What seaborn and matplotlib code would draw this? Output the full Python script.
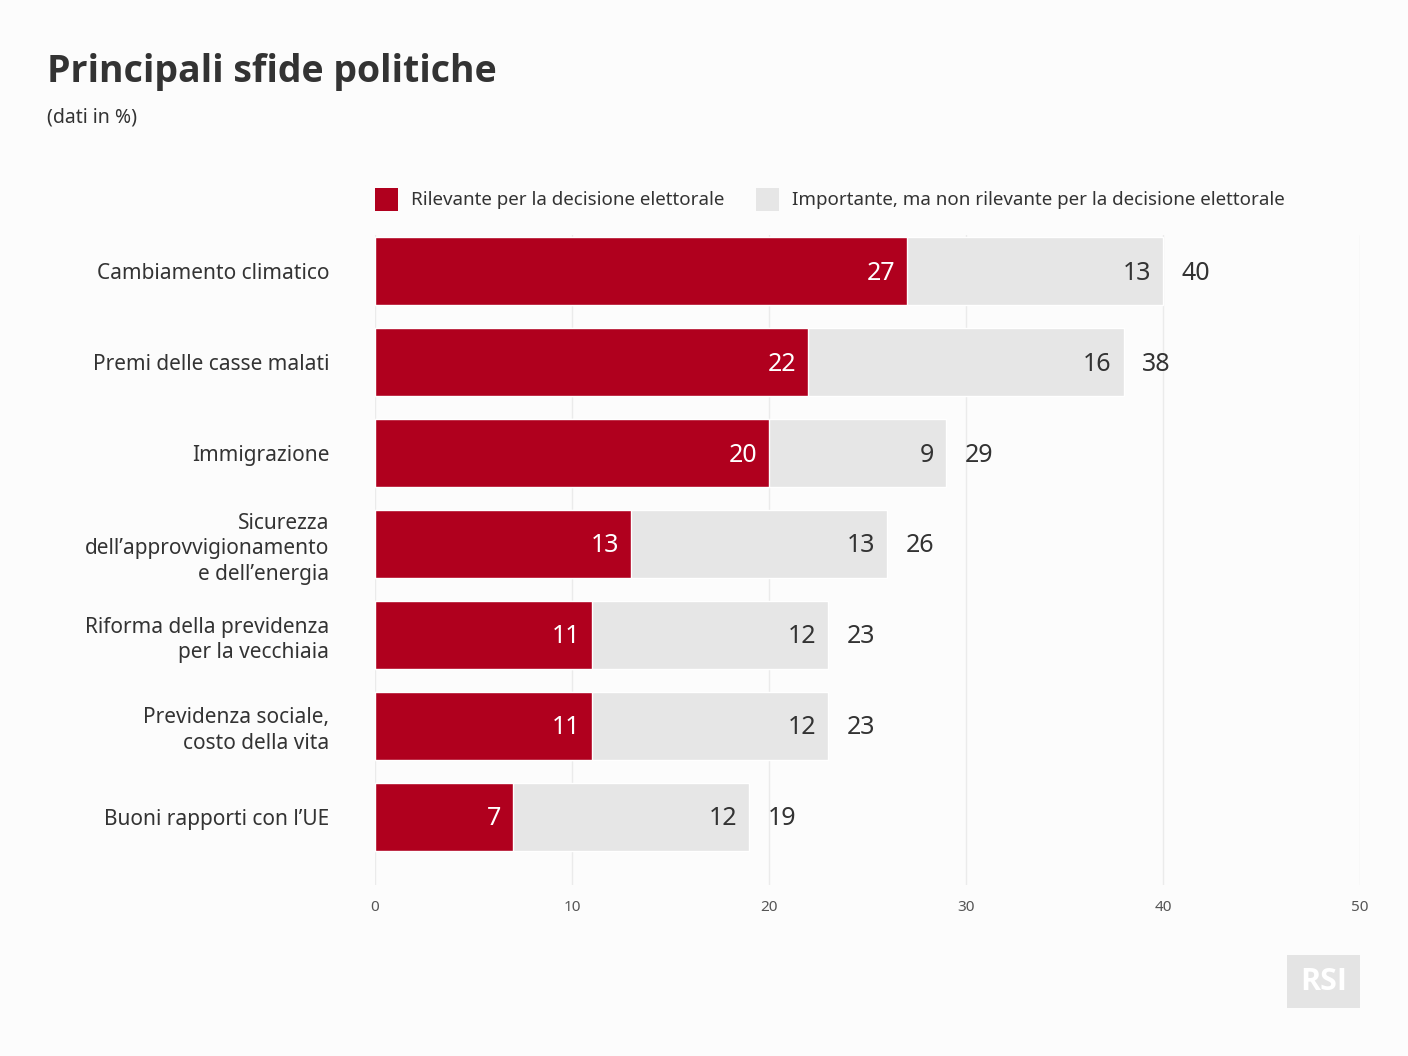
import matplotlib
matplotlib.use("Agg")
import matplotlib.pyplot as plt
import seaborn as sns
import pandas as pd
from matplotlib.patches import Rectangle

categories = [
    "Cambiamento climatico",
    "Premi delle casse malati",
    "Immigrazione",
    "Sicurezza\ndell\u2019approvvigionamento\ne dell\u2019energia",
    "Riforma della previdenza\nper la vecchiaia",
    "Previdenza sociale,\ncosto della vita",
    "Buoni rapporti con l\u2019UE",
]
rilevante = [27, 22, 20, 13, 11, 11, 7]
importante = [13, 16, 9, 13, 12, 12, 12]
totale = [40, 38, 29, 26, 23, 23, 19]
x_ticks = [0, 10, 20, 30, 40, 50]

RED = "#B0001E"
GRAY = "#E6E6E6"
BG = "#FCFCFC"
TXT = "#333333"

sns.set_theme(style="white")
plt.rcParams["font.family"] = ["Noto Sans", "DejaVu Sans"]

df = pd.DataFrame({"cat": categories, "ril": rilevante, "imp": importante, "tot": totale})

fig = plt.figure(figsize=(14.08, 10.56), dpi=100, facecolor=BG)
ax = fig.add_axes([375/1408, 1-885/1056, (1360-375)/1408, (885-235)/1056])
ax.set_facecolor(BG)

sns.barplot(data=df, x="tot", y="cat", color=GRAY, width=0.75, ax=ax, saturation=1, zorder=2)
sns.barplot(data=df, x="ril", y="cat", color=RED, width=0.75, ax=ax, saturation=1, zorder=3)

ax.set_xlim(0, 50)
ax.set_ylim(6.75, -0.4)
ax.set_xticks(x_ticks)
ax.set_xticklabels([str(t) for t in x_ticks], fontsize=11, color="#555555")
ax.tick_params(axis="x", length=0, pad=11)
ax.tick_params(axis="y", length=0, pad=33)
ax.set_yticks(range(len(categories)))
ax.set_yticklabels(categories, fontsize=15, color=TXT, linespacing=1.3)
ax.set_xlabel("")
ax.set_ylabel("")
for s in ax.spines.values():
    s.set_visible(False)
ax.grid(axis="x", color="#EBEBEB", linewidth=1, zorder=0)
ax.set_axisbelow(True)

for i, (r, im, t) in enumerate(zip(rilevante, importante, totale)):
    ax.text(r - 0.6, i + 0.02, str(r), ha="right", va="center", color="white", fontsize=18, zorder=5)
    ax.text(t - 0.6, i + 0.02, str(im), ha="right", va="center", color=TXT, fontsize=18, zorder=5)
    ax.text(t + 0.95, i + 0.02, str(t), ha="left", va="center", color=TXT, fontsize=18, zorder=5)

fig.text(47/1408, 1-72/1056, "Principali sfide politiche", fontsize=27, fontweight="bold",
         family=["Open Sans", "DejaVu Sans"], color=TXT, ha="left", va="center")
fig.text(47/1408, 1-118/1056, "(dati in %)", fontsize=14, color=TXT, ha="left", va="center")

# legend
ly = 1-200/1056
for x0, col, lab in [(375, RED, "Rilevante per la decisione elettorale"),
                     (756, GRAY, "Importante, ma non rilevante per la decisione elettorale")]:
    fig.patches.append(Rectangle((x0/1408, 1-211/1056), 23/1408, 23/1056, transform=fig.transFigure,
                                 facecolor=col, edgecolor="none"))
    fig.text((x0+36)/1408, ly, lab, fontsize=13.5, color=TXT, ha="left", va="center")

# logo
fig.patches.append(Rectangle((1287/1408, 1-1008/1056), 73/1408, 53/1056, transform=fig.transFigure,
                             facecolor="#E4E4E4", edgecolor="none"))
fig.text(1323.5/1408, 1-982/1056, "RSI", fontsize=22, fontweight="bold", color="white",
         family=["Open Sans", "DejaVu Sans"], ha="center", va="center")

fig.savefig("out.png", dpi=100, facecolor=BG)
